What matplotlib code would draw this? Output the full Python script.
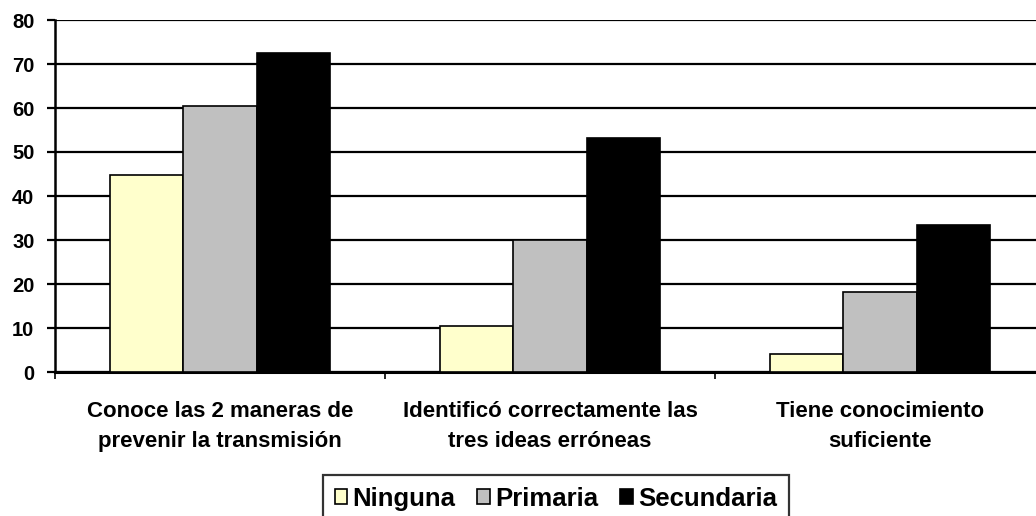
import matplotlib
matplotlib.use("Agg")
import matplotlib.pyplot as plt
import matplotlib.transforms as mtrans
import numpy as np

categories = ["Conoce las 2 maneras de\nprevenir la transmisión",
              "Identificó correctamente las\ntres ideas erróneas",
              "Tiene conocimiento\nsuficiente"]
series_names = ["Ninguna", "Primaria", "Secundaria"]
ninguna = [44.8, 10.5, 4.2]
primaria = [60.5, 30.0, 18.2]
secundaria = [72.5, 53.2, 33.5]
yticks = [0, 10, 20, 30, 40, 50, 60, 70, 80]

colors = ["#FFFFCC", "#C0C0C0", "#000000"]

plt.rcParams['font.family'] = ['Liberation Sans', 'DejaVu Sans']
plt.rcParams['font.weight'] = 'bold'

W, H = 1036, 516
fig = plt.figure(figsize=(W/100, H/100), dpi=100)
x0, x1 = 55, 1045
y0, y1 = 20, 372
ax = fig.add_axes([x0/W, 1 - y1/H, (x1-x0)/W, (y1-y0)/H])

x = np.arange(len(categories))
w = 0.2227
handles = []
for i, (vals, c, name) in enumerate(zip([ninguna, primaria, secundaria], colors, series_names)):
    b = ax.bar(x + (i-1)*w, vals, width=w, color=c, edgecolor="black", linewidth=1.2,
               label=name, zorder=3)
    handles.append(b)

ax.set_xlim(-0.5, 2.5)
ax.set_ylim(0, 80)
ax.set_yticks(yticks)
ax.set_yticklabels([str(v) for v in yticks], fontsize=14.5, fontweight='bold')
ax.yaxis.grid(True, color="black", linewidth=1.6, zorder=0)
ax.set_axisbelow(True)

ax.set_xticks([-0.5, 0.5, 1.5, 2.5])
ax.set_xticklabels([])
ax.tick_params(axis='x', length=5, width=1.2, direction='out', color='black')
ax.tick_params(axis='y', length=5.8, width=1.6, direction='out', color='black', pad=9)

for s in ['top', 'right']:
    ax.spines[s].set_visible(False)
ax.spines['left'].set_linewidth(1.8)
ax.spines['bottom'].set_linewidth(2.2)

trans = mtrans.blended_transform_factory(ax.transData, fig.transFigure)
for xi, lab in zip(x, categories):
    ax.text(xi, 1 - 426.5/H, lab, ha='center', va='center', fontsize=16, fontweight='bold',
            linespacing=1.6, transform=trans)

leg = fig.legend(handles=handles, labels=series_names, loc='upper left',
                 bbox_to_anchor=(323/W, 1 - 475/H), ncol=3, frameon=True, fancybox=False,
                 edgecolor='black', prop={'weight': 'bold', 'size': 18.5},
                 handlelength=0.5, handleheight=0.5, handletextpad=0.2, columnspacing=0.85,
                 borderpad=0.45, borderaxespad=0)
leg.get_frame().set_linewidth(1.6)

fig.savefig("out.png", dpi=100)
